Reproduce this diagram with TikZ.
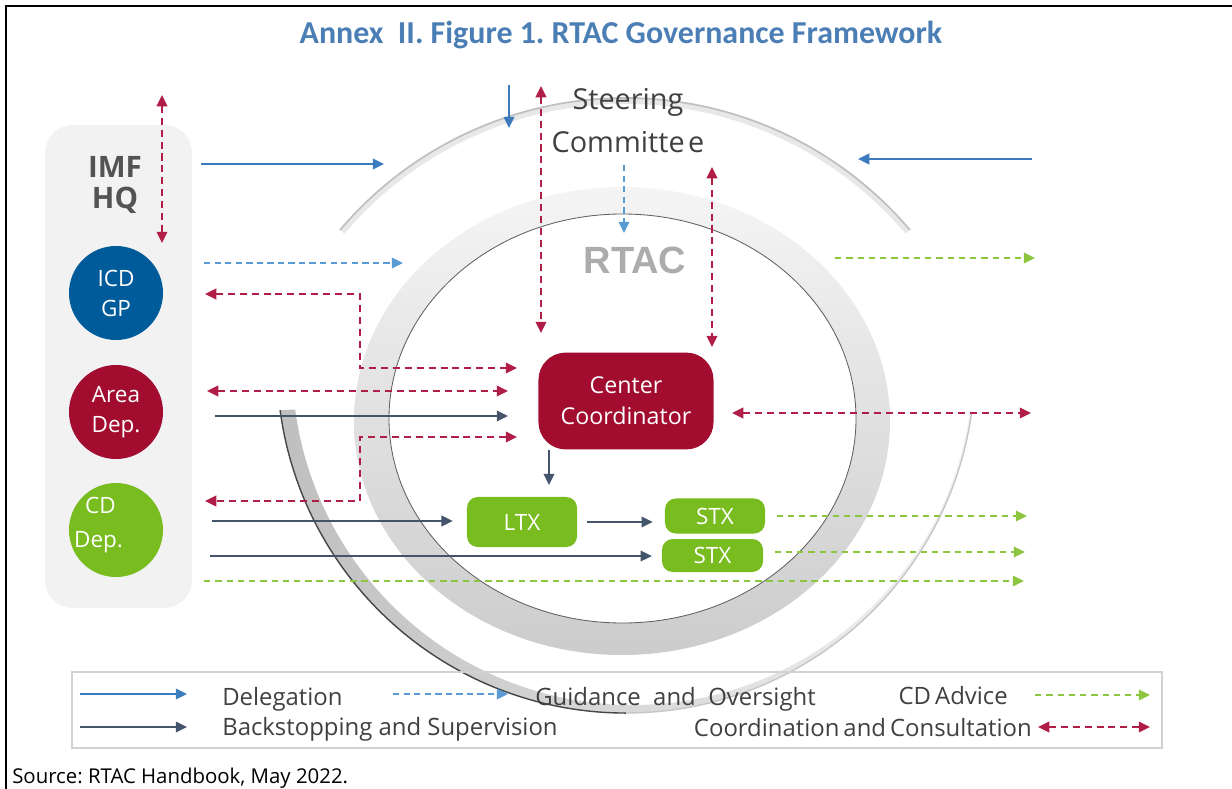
\documentclass[tikz,border=0pt]{standalone}
\usepackage{fontspec}
\setmainfont{Open Sans}
\newfontfamily\titlefont{Carlito}
\newfontfamily\rtacfont{Liberation Sans}
\frenchspacing
\usetikzlibrary{arrows.meta,positioning}
\definecolor{imfblue}{HTML}{005B9A}
\definecolor{imfred}{HTML}{A20C2F}
\definecolor{imfgreen}{HTML}{78BC20}
\definecolor{titleblue}{HTML}{4A7EB5}
\definecolor{delblue}{HTML}{3B7BBE}
\definecolor{guideblue}{HTML}{5B9BD5}
\definecolor{slate}{HTML}{44546A}
\definecolor{advgreen}{HTML}{8CC63F}
\definecolor{consred}{HTML}{B01E47}
\definecolor{ink}{HTML}{404040}
\definecolor{panel}{HTML}{F2F2F2}
\tikzset{
  unitnode/.style={circle, minimum size=2.35cm, inner sep=0pt, text=white, align=center,
                   font=\fontsize{16}{21.3}\selectfont},
  cellbox/.style={rectangle, rounded corners=0.27cm, fill=imfgreen, text=white, inner sep=0pt,
                  font=\fontsize{16}{19}\selectfont},
  coordbox/.style={rectangle, rounded corners=0.68cm, fill=imfred, text=white, align=center,
                   minimum width=4.375cm, minimum height=2.42cm, inner sep=0pt,
                   font=\fontsize{16.5}{22}\selectfont},
  hqlbl/.style={text=ink!90, align=center, inner sep=0pt, font=\fontsize{21}{22.7}\selectfont\bfseries},
  sclbl/.style={text=ink, align=center, inner sep=0pt, font=\fontsize{20.5}{30.5}\selectfont},
  keytext/.style={text=ink, inner sep=0pt, font=\fontsize{17}{20}\selectfont},
  delegate/.style={-{Triangle[length=8pt,width=7.5pt]}, draw=delblue, line width=1.4pt},
  guide/.style={delegate, draw=guideblue, dash pattern=on 4.5pt off 3pt},
  backstop/.style={delegate, draw=slate},
  advice/.style={delegate, draw=advgreen, line width=1.6pt, dash pattern=on 4.5pt off 3.5pt},
  consult/.style={{Triangle[length=8pt,width=7.5pt]}-{Triangle[length=8pt,width=7.5pt]},
                  draw=consred, line width=1.6pt, dash pattern=on 5pt off 3.5pt}
}

\begin{document}
\begin{tikzpicture}[x=0.025cm, y=-0.025cm]
  \useasboundingbox (0,0) rectangle (1232,789);

  % frame, title, source
  \draw[line width=1.8pt] (5,6) -- (1232,6);
  \draw[line width=1.8pt] (6,5) -- (6,789);
  \node[font=\titlefont\fontsize{22.7}{26}\selectfont\bfseries, text=titleblue, anchor=base] (title)
    at (621,43) {Annex\ \ II. Figure 1. RTAC Governance Framework};
  \node[font=\fontsize{14.5}{17}\selectfont, anchor=base west, inner sep=0pt] (source)
    at (12,783) {Source: RTAC Handbook, May 2022.};

  % backdrop: HQ panel, RTAC ring, sweeping arcs
  \fill[panel, rounded corners=0.7cm] (45,125) rectangle (192,608);
  \shade[top color=gray!8, bottom color=gray!40, even odd rule]
    (622,421) ellipse[x radius=268, y radius=234]
    (622.5,418.5) ellipse[x radius=233.5, y radius=204.5];
  \draw[gray!75!black, line width=0.6pt] (622.5,418.5) ellipse[x radius=233.5, y radius=204.5];
  \draw[gray!18, line width=4pt] (342.3,231.9) arc[start angle=220.3, end angle=319.7, radius=370.7];
  \draw[gray!50, line width=1.2pt] (340,230) arc[start angle=220.3, end angle=319.7, radius=373.7];
  \shade[left color=gray!50, right color=gray!10]
    (280.1,410.2) arc[start angle=172.4, end angle=8.1, radius=349]
    -- (969.6,412.5) arc[start angle=8.1, end angle=172.4, radius=340.42] -- cycle;
  \draw[gray!55!black, line width=1pt] (280.1,410.2) arc[start angle=172.4, end angle=90, radius=349];
  \draw[gray!45, line width=1pt] (626,713) arc[start angle=90, end angle=8.1, radius=349];

  % nodes
  \node[hqlbl] (hq) at (115,185) {IMF\\HQ};
  \node[unitnode, fill=imfblue] (icd) at (116,293) {ICD\\GP};
  \node[unitnode, fill=imfred] (area) at (116,412) {Area\\Dep.};
  \node[unitnode, fill=imfgreen] (cd) at (116,530) {};
  \node[text=white, align=left, inner sep=0pt, font=\fontsize{16}{24.8}\selectfont] (cdlbl)
    at (98.5,525) {\hspace*{7.8pt}CD\\Dep.};
  \node[sclbl] (sc) at (628,121) {Steering\\Committe\kern2.5pt e};
  \node[font=\rtacfont\bfseries\fontsize{27}{30}\selectfont, text=gray!65, anchor=base] (rtac)
    at (635,273) {RTAC};
  \node[coordbox] (cc) at (626,401) {Center\\Coordinator};
  \node[cellbox, minimum width=2.75cm, minimum height=1.25cm] (ltx) at (522,522) {LTX};
  \node[cellbox, minimum width=2.5cm, minimum height=0.875cm] (stxa) at (715,516) {STX};
  \node[cellbox, minimum width=2.525cm, minimum height=0.825cm] (stxb) at (712.5,555.5) {STX};

  % free ends of the connectors
  \coordinate (hq-up) at (162,95);    \coordinate (hq-dn) at (162,243);
  \coordinate (hq-r) at (201,164);    \coordinate (sc-w) at (384,164);
  \coordinate (sc-top) at (509,85);   \coordinate (sc-in) at (509,128);
  \coordinate (ext-r) at (1032,159);  \coordinate (sc-e) at (858,159);
  \coordinate (sc-a) at (541,86);     \coordinate (cc-a) at (541,333);
  \coordinate (sc-b) at (712,167);    \coordinate (cc-b) at (712,347);
  \coordinate (sc-g) at (624,165);    \coordinate (rtac-g) at (624,233);
  \coordinate (icd-g) at (204,263);   \coordinate (rtac-w) at (403,263);
  \coordinate (rtac-e) at (835,258);  \coordinate (adv-d) at (1035,258);
  \coordinate (icd-r) at (205,294);   \coordinate (bend-a) at (360,368);  \coordinate (cc-w1) at (517,368);
  \coordinate (area-r) at (207,391);  \coordinate (cc-w2) at (508,391);
  \coordinate (area-b) at (215,416);  \coordinate (cc-w4) at (508,416);
  \coordinate (cc-w3) at (517,437);   \coordinate (bend-b) at (360,437);  \coordinate (cd-r) at (205,501);
  \coordinate (cons-e) at (1031,413);
  \coordinate (ltx-in) at (549,485);
  \coordinate (cd-a) at (212,521);    \coordinate (cd-b) at (210,556);
  \coordinate (cd-c) at (204,581);    \coordinate (adv-c) at (1024,581);
  \coordinate (adv-a) at (1027,516);  \coordinate (adv-b) at (1025,552);

  % connectors
  \draw[consult] (hq-up) -- (hq-dn);
  \draw[consult] (sc-a) -- (cc-a);
  \draw[consult] (sc-b) -- (cc-b);
  \draw[consult] (icd-r) -| (bend-a) -- (cc-w1);
  \draw[consult] (area-r) -- (cc-w2);
  \draw[consult] (cc-w3) -- (bend-b) |- (cd-r);
  \draw[consult, shorten <=13pt] (cons-e -| cc.east) -- (cons-e);
  \draw[delegate] (hq-r) -- (sc-w);
  \draw[delegate] (sc-top) -- (sc-in);
  \draw[delegate] (ext-r) -- (sc-e);
  \draw[guide] (sc-g) -- (rtac-g);
  \draw[guide] (icd-g) -- (rtac-w);
  \draw[backstop] (area-b) -- (cc-w4);
  \draw[backstop] (cc.south -| ltx-in) -- (ltx-in);
  \draw[backstop, shorten >=10pt] (cd-a) -- (cd-a -| ltx.west);
  \draw[backstop, shorten <=7pt, shorten >=8.5pt] (ltx.east) -- (ltx.east -| stxa.west);
  \draw[backstop, shorten >=7pt] (cd-b) -- (cd-b -| stxb.west);
  \draw[advice] (rtac-e) -- (adv-d);
  \draw[advice, shorten <=8pt] (stxa.east) -- (adv-a);
  \draw[advice, shorten <=8pt] (adv-b -| stxb.east) -- (adv-b);
  \draw[advice] (cd-c) -- (adv-c);

  % legend
  \node[draw=gray!35, line width=1.5pt, minimum width=27.25cm, minimum height=1.9cm, inner sep=0pt] (key)
    at (617,710) {};
  \node[keytext, anchor=base west] (k-del) at (222,705) {Delegation};
  \node[keytext, anchor=base west] (k-back) at (222,735) {Backstopping and Supervision};
  \node[keytext, anchor=base west] (k-guide) at (535,705) {Guidance\ \ and\ \ Oversight};
  \node[keytext, anchor=base east] (k-adv) at (1008,704) {CD\,Advice};
  \node[keytext, anchor=base east] (k-cons) at (1032,736) {Coordination\,and\,Consultation};
  \coordinate (kd-a) at (80,694);   \coordinate (kd-b) at (187,694);
  \coordinate (kb-a) at (80,727);   \coordinate (kb-b) at (187,727);
  \coordinate (kg-a) at (393,694);  \coordinate (kg-b) at (508,694);
  \coordinate (ka-a) at (1035,695); \coordinate (ka-b) at (1150,695);
  \coordinate (kc-a) at (1038,727); \coordinate (kc-b) at (1150,727);
  \draw[delegate] (kd-a) -- (kd-b);
  \draw[backstop] (kb-a) -- (kb-b);
  \draw[guide] (kg-a) -- (kg-b);
  \draw[advice] (ka-a) -- (ka-b);
  \draw[consult] (kc-a) -- (kc-b);
\end{tikzpicture}
\end{document}
